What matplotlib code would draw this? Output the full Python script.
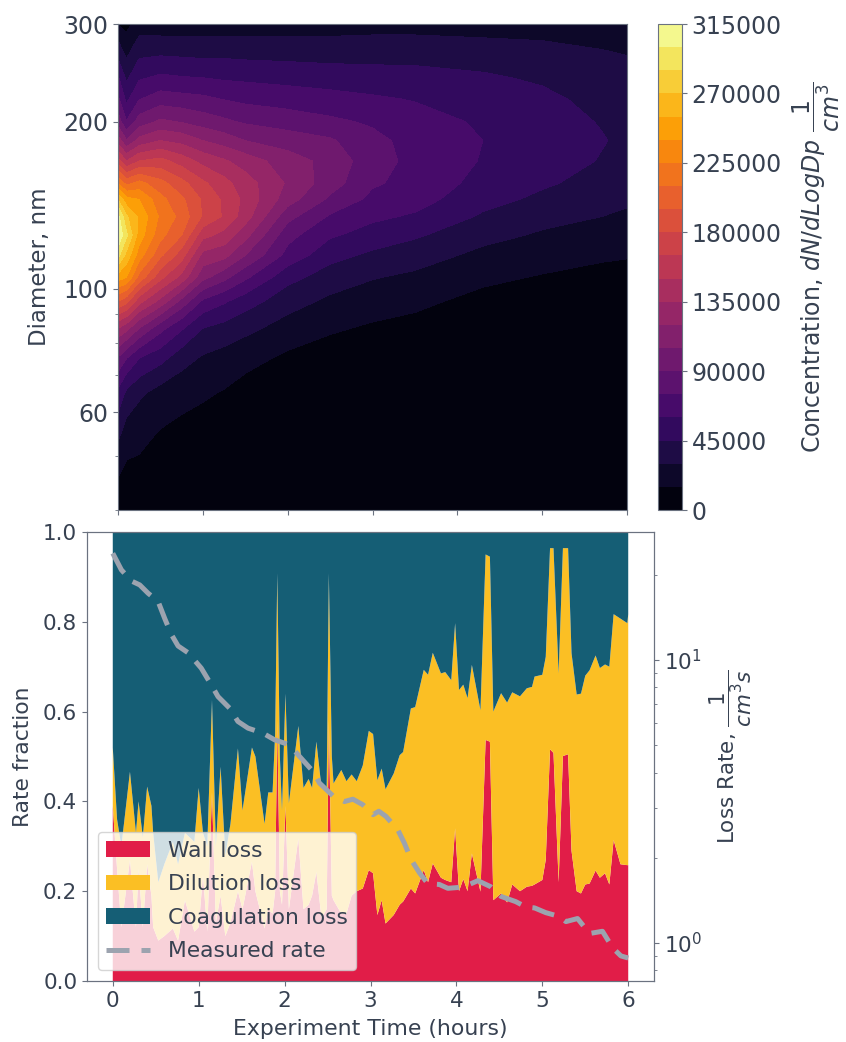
"""Particle size distribution over time and the split of loss rates."""

import matplotlib
matplotlib.use("Agg")
import matplotlib.pyplot as plt
import numpy as np
from matplotlib.ticker import FixedLocator, NullFormatter, ScalarFormatter

# ---- Size distribution, thousands of particles ----
conc_times = [0, 0.1, 0.25, 0.5, 0.75, 1, 1.25, 1.5, 2, 2.5, 3, 3.5, 4.3, 5, 5.7, 6]
diameters = [300, 280, 260, 240, 220, 200, 185, 170, 155, 145, 135, 125, 115, 105, 95, 85, 75, 65, 55, 47, 40]
conc_k = [
    [14, 30, 45, 62, 78, 98, 128, 170, 225, 270, 305, 314, 290, 248, 195, 135, 88, 56, 34, 17, 5],
    [10, 20, 30, 42, 56, 76, 106, 150, 205, 245, 272, 288, 265, 240, 185, 125, 75, 42, 23, 12, 4],
    [22, 33, 45, 58, 74, 97, 125, 165, 215, 240, 252, 248, 232, 205, 155, 105, 60, 33, 19, 12, 3],
    [22, 33, 47, 63, 82, 108, 135, 170, 200, 215, 222, 215, 198, 170, 130, 80, 50, 24, 14, 6, 1.5],
    [23, 32, 46, 61, 80, 104, 130, 158, 185, 198, 205, 195, 172, 145, 100, 62, 36, 20, 11, 4, 1],
    [24, 32, 45, 60, 78, 98, 120, 145, 168, 178, 178, 155, 130, 110, 72, 45, 28, 17, 9, 2, 0.5],
    [24, 32, 45, 58, 74, 93, 113, 137, 155, 162, 163, 145, 125, 95, 62, 40, 24, 14, 5, 1, 0],
    [24, 32, 44, 57, 71, 88, 105, 128, 142, 146, 142, 125, 105, 78, 52, 34, 20, 9, 2, 0.5, 0],
    [24, 32, 43, 55, 68, 83, 98, 112, 118, 112, 95, 80, 70, 50, 36, 24, 12, 5, 1, 0, 0],
    [24, 32, 42, 53, 65, 78, 92, 100, 97, 87, 73, 62, 50, 38, 27, 17, 8, 3, 1, 0, 0],
    [24, 33, 42, 51, 62, 73, 79, 81, 77, 71, 63, 54, 42, 31, 22, 13, 6, 2, 0.5, 0, 0],
    [24, 33, 42, 50, 59, 66, 70, 71, 70, 66, 58, 47, 37, 27, 18, 11, 5, 2, 0.5, 0, 0],
    [25, 31, 40, 47, 53, 58, 60, 59, 55, 50, 43, 35, 26, 18, 11, 6, 3, 1, 0, 0, 0],
    [24, 30, 37, 43, 48, 52, 54, 53, 47, 42, 35, 28, 21, 14, 9, 4, 2, 0.5, 0, 0, 0],
    [21, 27, 33, 37, 41, 44, 46, 44, 40, 36, 30, 23, 17, 11, 6, 3, 1, 0.5, 0, 0, 0],
    [20, 25, 31, 34, 37, 40, 42, 41, 37, 33, 27, 21, 16, 10, 5, 3, 1, 0.5, 0, 0, 0],
]
conc_ticks = [0, 45000, 90000, 135000, 180000, 225000, 270000, 315000]

# ---- Loss fractions: wall share and the top of the wall + dilution stack ----
frac_times = [
    0.00, 0.05, 0.10, 0.20, 0.27, 0.30, 0.35, 0.40, 0.45, 0.47, 0.53, 0.60, 0.70, 0.76, 0.84, 0.95,
    1.00, 1.05, 1.10, 1.155, 1.20, 1.255, 1.31, 1.37, 1.457, 1.51, 1.62, 1.66, 1.767, 1.81, 1.86, 1.89,
    1.915, 1.945, 1.97, 2.01, 2.05, 2.16, 2.22, 2.28, 2.32, 2.37, 2.43, 2.49, 2.515, 2.55, 2.57, 2.66,
    2.72, 2.78, 2.84, 2.91, 2.98, 3.03, 3.08, 3.13, 3.175, 3.27, 3.34, 3.38, 3.47, 3.52, 3.62, 3.67,
    3.725, 3.82, 3.87, 3.94, 3.985, 4.03, 4.08, 4.13, 4.18, 4.28, 4.34, 4.39, 4.43, 4.52, 4.59, 4.65,
    4.74, 4.82, 4.88, 4.91, 5.00, 5.04, 5.09, 5.13, 5.19, 5.24, 5.30, 5.34, 5.40, 5.45, 5.50, 5.55,
    5.62, 5.67, 5.73, 5.78, 5.83, 5.91, 5.99, 6.00,
]
wall_frac = [
    .39, .25, .12, .27, .12, .25, .12, .26, .19, .12, .09, .10, .117, .09, .18, .11,
    .12, .236, .11, .42, .13, .19, .10, .13, .20, .16, .266, .20, .117, .16, .15, .20,
    .58, .20, .17, .39, .16, .318, .16, .17, .19, .243, .14, .16, .58, .19, .18, .15,
    .15, .19, .20, .206, .247, .24, .147, .18, .128, .147, .17, .177, .206, .195, .247, .22,
    .262, .23, .225, .22, .34, .20, .227, .20, .284, .199, .537, .533, .18, .195, .175, .215,
    .20, .21, .212, .215, .225, .27, .516, .508, .22, .501, .505, .29, .20, .195, .215, .217,
    .246, .23, .24, .215, .314, .26, .258, .258,
]
stack_top = [
    .52, .36, .30, .466, .33, .40, .32, .433, .39, .33, .22, .26, .31, .26, .33, .31,
    .43, .33, .30, .626, .30, .477, .28, .35, .518, .38, .52, .50, .35, .42, .42, .55,
    .908, .50, .38, .64, .396, .568, .43, .45, .43, .533, .43, .43, .908, .50, .44, .47,
    .445, .46, .445, .48, .557, .55, .447, .473, .427, .462, .503, .51, .607, .61, .693, .682,
    .731, .685, .688, .67, .797, .648, .66, .63, .704, .603, .95, .945, .60, .641, .62, .643,
    .634, .652, .655, .678, .682, .722, .964, .964, .685, .964, .964, .73, .638, .64, .68, .692,
    .725, .697, .705, .70, .817, .807, .797, .817,
]

# ---- Measured loss rate on the right axis ----
rate_times = [
    0.00, 0.10, 0.217, 0.314, 0.411, 0.527, 0.605, 0.682, 0.76, 0.876, 1.03, 1.147, 1.225, 1.36, 1.457,
    1.574, 1.748, 1.884, 2.058, 2.174, 2.33, 2.407, 2.562, 2.698, 2.795, 2.91, 3.03, 3.097, 3.18, 3.318,
    3.395, 3.473, 3.57, 3.667, 3.80, 3.90, 4.015, 4.15, 4.25, 4.40, 4.52, 4.69, 4.81, 4.91, 5.04, 5.20,
    5.275, 5.41, 5.55, 5.70, 5.82, 5.915, 6.00,
]
rate_values = [
    23.8, 20.8, 19.0, 18.4, 17.2, 16.1, 14.0, 12.3, 11.2, 10.6, 9.35, 8.16, 7.42, 6.75, 6.06,
    5.74, 5.51, 5.22, 5.01, 4.56, 4.04, 3.67, 3.31, 3.16, 3.22, 3.08, 2.84, 2.92, 2.80, 2.51,
    2.25, 1.97, 1.77, 1.62, 1.61, 1.56, 1.57, 1.61, 1.66, 1.58, 1.46, 1.40, 1.34, 1.33, 1.28, 1.24,
    1.19, 1.22, 1.08, 1.10, 0.96, 0.90, 0.885,
]

TEXT = "#374151"
EDGE = "#6b7280"
WALL = "#e11d48"
DILUTION = "#fbbf24"
COAG = "#155e75"
RATE = "#9ca3af"

W, H = 846, 1042

plt.rcParams.update({
    "font.size": 16,
    "text.color": TEXT,
    "axes.labelcolor": TEXT,
    "axes.edgecolor": EDGE,
    "xtick.color": EDGE,
    "ytick.color": EDGE,
    "xtick.labelcolor": TEXT,
    "ytick.labelcolor": TEXT,
    "mathtext.default": "it",
})


def box(left, top, right, bottom):
    return [left / W, 1 - bottom / H, (right - left) / W, (bottom - top) / H]


def main():
    fig = plt.figure(figsize=(W / 100, H / 100), dpi=100)

    # ---- Figure 1: size distribution ----
    ax = fig.add_axes(box(118, 24, 627, 510))
    z = np.array(conc_k).T[::-1] * 1000
    levels = np.arange(0, 315001, 15000)
    cs = ax.contourf(conc_times, diameters[::-1], z, levels=levels, cmap="inferno")
    ax.set_yscale("log")
    ax.set_xlim(0, 6)
    ax.set_ylim(40, 300)
    ax.set_xticks(range(7))
    ax.set_xticklabels([])
    ax.yaxis.set_major_locator(FixedLocator([60, 100, 200, 300]))
    ax.yaxis.set_major_formatter(ScalarFormatter())
    ax.yaxis.set_minor_locator(FixedLocator([40, 50, 70, 80, 90]))
    ax.yaxis.set_minor_formatter(NullFormatter())
    ax.tick_params(labelsize=17)
    ax.set_ylabel("Diameter, nm", fontsize=16.5)
    ax.yaxis.set_label_coords((51 - 118) / 509, 0.5)

    cax = fig.add_axes(box(658, 24, 682, 510))
    cbar = fig.colorbar(cs, cax=cax, ticks=conc_ticks)
    cbar.ax.tick_params(labelsize=17)
    cbar.outline.set_edgecolor(EDGE)
    cbar.set_label(r"Concentration, $dN/dLogDp$ $\dfrac{1}{cm^3}$", fontsize=17, labelpad=6)

    # ---- Figure 2: loss fractions with the measured rate ----
    ax1 = fig.add_axes(box(87, 532, 654, 981))
    wall = np.array(wall_frac)
    top = np.array(stack_top)
    stacks = ax1.stackplot(
        frac_times, wall, top - wall, 1 - top,
        colors=[WALL, DILUTION, COAG],
        labels=["Wall loss", "Dilution loss", "Coagulation loss"],
    )
    ax1.set_xlim(-0.3, 6.3)
    ax1.set_ylim(0, 1)
    ax1.set_xticks(range(7))
    ax1.tick_params(labelsize=15.5)
    ax1.set_xlabel("Experiment Time (hours)", fontsize=15.8, labelpad=6)
    ax1.set_ylabel("Rate fraction", fontsize=15.7)
    ax1.yaxis.set_label_coords((33 - 87) / 567, 0.5)

    ax2 = ax1.twinx()
    line, = ax2.plot(rate_times, rate_values, color=RATE, lw=3.6, ls=(0, (4.6, 2.4)), label="Measured rate")
    ax2.set_yscale("log")
    ax2.set_ylim(0.734, 28.3)
    ax2.tick_params(labelsize=15.5)
    ax2.set_ylabel(r"Loss Rate, $\dfrac{1}{cm^3 s}$", fontsize=15.5)
    ax2.legend(
        handles=[*stacks, line], loc="lower left", bbox_to_anchor=(0.019, 0.0245),
        borderaxespad=0, fontsize=15.7, framealpha=0.8, labelcolor=TEXT, labelspacing=0.62,
    )

    fig.savefig("out.png", dpi=100)
    plt.close(fig)


if __name__ == "__main__":
    main()
